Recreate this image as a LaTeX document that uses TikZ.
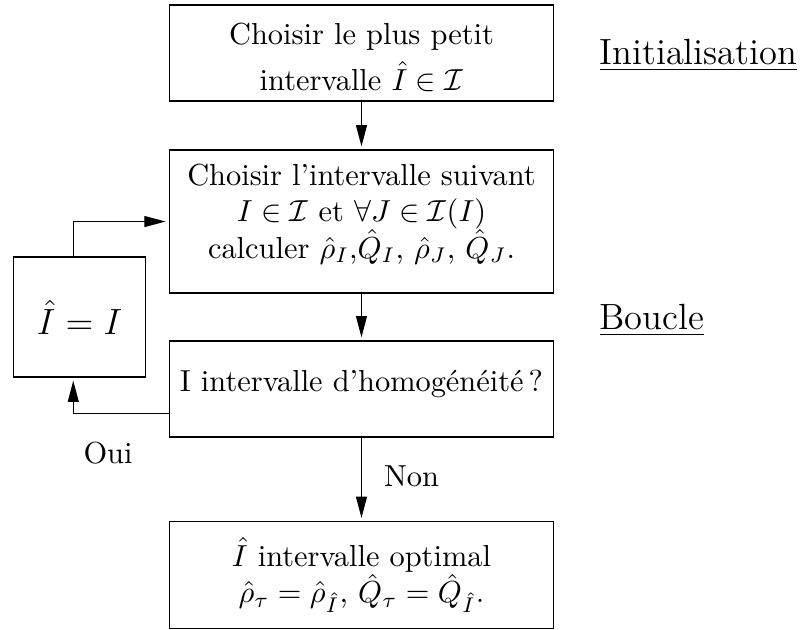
\documentclass[tikz,border=0pt]{standalone}
\usepackage{amsmath,amssymb}
\usetikzlibrary{arrows.meta,positioning}

\tikzset{
    block/.style={draw, align=center, minimum width=4.444cm, inner sep=2pt},
    flow/.style={-{Triangle[length=7pt,width=3.6pt]}, shorten >=1pt},
}

\begin{document}
\begin{tikzpicture}
    \useasboundingbox (0,0) rectangle (9.318,-7.283);

    \node[block, minimum height=1.110cm] (init) at (4.179,-0.613) {\rule{0pt}{10pt}Choisir le plus petit\\[3pt] intervalle $\hat{I}\in\mathcal{I}$};
    \node[block, minimum height=1.653cm] (select) at (4.179,-2.561) {Choisir l'intervalle suivant\\ $I\in\mathcal{I}$ et $\forall J\in\mathcal{I}(I)$\\ calculer $\hat{\rho}_I$,$\hat{Q}_I$, $\hat{\rho}_J$, $\hat{Q}_J$.\rule[-7pt]{0pt}{0pt}};
    \node[block, minimum height=1.110cm, text depth=5.6pt] (test) at (4.179,-4.497) {I intervalle d'homogénéité\,?};
    \node[block, minimum height=1.237cm] (result) at (4.179,-6.648) {$\hat{I}$ intervalle optimal\\ $\hat{\rho}_\tau=\hat{\rho}_{\hat{I}}$, $\hat{Q}_\tau=\hat{Q}_{\hat{I}}$.};

    \node[draw, minimum width=1.531cm, minimum height=1.387cm, font=\large] (update) at (0.919,-3.665) {$\hat{I}=I$};

    \draw[flow] (init) -- (select);
    \draw[flow] (select) -- (test);
    \draw[flow] (test) -- (result);
    \draw[flow] ([yshift=-0.286cm]test.west) -| ([xshift=-0.072cm]update.south);
    \draw[flow] ([xshift=-0.072cm]update.north) |- (select.west);

    \node[anchor=base] (oui) at (1.249,-5.353) {Oui};
    \node[anchor=base] (non) at (4.757,-5.619) {Non};

    \node[anchor=base west, inner sep=0pt, font=\large] (initlabel) at (6.925,-0.740) {\underline{Initialisation}};
    \node[anchor=base west, inner sep=0pt, font=\large] (looplabel) at (6.925,-3.804) {\underline{Boucle}};
\end{tikzpicture}
\end{document}
